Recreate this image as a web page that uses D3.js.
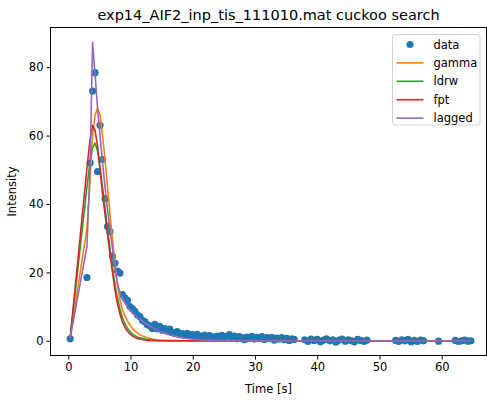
<!DOCTYPE html>
<html>
<head>
<meta charset="utf-8">
<script src="https://cdn.jsdelivr.net/npm/d3@7"></script>
<style>
  body { margin: 0; background: #fff; }
  text { font-family: "DejaVu Sans", sans-serif; fill: #000; }
</style>
</head>
<body>
<script>
// Measured samples (time in s, intensity)
var dataTime = [0.3, 3.0, 3.5, 3.9, 4.3, 4.7, 5.1, 5.5, 5.9, 6.3, 6.7, 7.1, 7.5,
    7.9, 8.3, 8.7, 9.1, 9.5, 9.9, 10.3, 10.7, 11.1, 11.5, 11.9, 12.3, 12.7,
    13.1, 13.5, 13.9, 14.3, 14.7, 15.1, 15.5, 15.9, 16.3, 16.7, 17.1, 17.5,
    17.9, 18.3, 18.7, 19.1, 19.5, 19.9, 20.3, 20.7, 21.1, 21.5, 21.9, 22.3,
    22.7, 23.1, 23.5, 23.9, 24.3, 24.7, 25.1, 25.5, 25.9, 26.3, 26.7, 27.1,
    27.5, 27.9, 28.3, 28.7, 29.1, 29.5, 29.9, 30.3, 30.7, 31.1, 31.5, 31.9,
    32.3, 32.7, 33.1, 33.5, 33.9, 34.3, 34.7, 35.1, 35.5, 35.9, 36.3,
    38.0, 38.5, 39.0, 39.5, 40.0, 40.5, 41.0, 41.5, 42.0, 42.5, 43.0, 43.5,
    44.0, 44.5, 45.0, 45.5, 46.0, 46.5, 47.0, 47.5, 48.0,
    52.6, 53.1, 53.6, 54.1, 54.6, 55.1, 55.6, 56.1, 56.6, 57.1,
    59.5, 62.2, 62.7, 63.2, 63.7, 64.2, 64.7];
var dataValue = [0.6, 18.5, 52.0, 73.0, 78.4, 49.5, 63.0, 53.0, 41.6, 33.4,
    31.9, 24.7, 22.7, 20.4, 19.8, 13.5, 12.5, 11.8, 10.0, 9.4, 8.6, 7.6, 7.1,
    6.0, 5.6, 4.7, 4.4, 3.6, 4.8, 3.5, 4.2, 3.1, 3.6, 2.8, 3.4, 2.5, 2.2, 2.7,
    1.9, 2.1, 1.6, 2.2, 1.5, 1.8, 1.2, 1.9, 1.4, 1.1, 1.7, 1.0, 1.5, 1.2, 0.7,
    1.4, 1.1, 1.6, 0.9, 1.3, 1.8, 1.0, 1.4, 0.6, 1.2, 0.9, 0.3, 1.1, 0.8, 1.3,
    0.5, 1.0, 0.7, 1.2, 0.4, 0.9, 0.6, 1.0, 0.2, 0.8, 0.5, 0.9, 0.3, 0.7, 0.1,
    0.6, 0.4,
    0.3, -0.2, 0.5, 0.1, 0.4, -0.3, 0.2, 0.6, 0.0, 0.3, -0.4, 0.2, 0.5, -0.1,
    0.3, 0.0, -0.3, 0.4, 0.1, -0.2, 0.2,
    0.1, -0.2, 0.3, 0.0, 0.4, -0.3, 0.1, -0.2, 0.2, 0.0,
    -0.1, 0.1, -0.2, 0.0, 0.2, -0.1, 0.0];

// Fitted model curves, sampled on their own time grid
var curveTime = [0.3, 3.0, 3.5, 3.9, 4.3, 4.7, 5.1, 5.5, 5.9, 6.3, 6.7, 7.1,
    7.5, 7.9, 8.3, 8.7, 9.1, 9.5, 9.9, 10.3, 10.7, 11.1, 11.5, 12.3, 13.1,
    13.9, 14.7, 15.5, 16.3, 17.9, 19.5, 21.1, 23.1, 25.1, 29.1, 35.1, 48.0,
    64.7];
var gammaFit = [0.8, 33, 47, 60, 66, 68, 66, 60, 53, 45, 37, 29.5, 22.5, 16.5,
    12, 9, 7.3, 5.8, 4.6, 3.7, 2.9, 2.3, 1.8, 1.1, 0.65, 0.38, 0.22, 0.13,
    0.08, 0.03, 0.01, 0, 0, 0, 0, 0, 0, 0];
var ldrwFit = [0.8, 45, 52.5, 56.5, 57.8, 55.5, 50.5, 45, 39, 33, 27, 21.5,
    16.5, 12.5, 9.3, 6.8, 5.0, 3.7, 2.7, 2.0, 1.5, 1.1, 0.85, 0.5, 0.3, 0.18,
    0.1, 0.06, 0.04, 0.02, 0.01, 0, 0, 0, 0, 0, 0, 0];
var fptFit = [0.8, 50.5, 59, 63, 61.5, 57, 50, 43, 37, 31, 25.5, 20, 15, 10.8,
    7.8, 5.5, 3.9, 2.8, 2.0, 1.4, 1.0, 0.7, 0.5, 0.25, 0.12, 0.06, 0.03,
    0.015, 0.01, 0, 0, 0, 0, 0, 0, 0, 0, 0];
var laggedFit = [0.8, 27.6, 51, 87.2, 78, 68, 60, 52, 45, 38.5, 32.5, 27,
    21.5, 16.5, 14.3, 12.5, 11.0, 9.9, 9.0, 8.2, 7.5, 6.9, 6.3, 5.2, 4.3, 3.5,
    2.8, 2.2, 1.7, 1.0, 0.6, 0.35, 0.18, 0.09, 0.02, 0, 0, 0];

var seriesNames = ["data", "gamma", "ldrw", "fpt", "lagged"];
var seriesColors = ["#1f77b4", "#ff7f0e", "#2ca02c", "#d62728", "#9467bd"];
var xTicks = [0, 10, 20, 30, 40, 50, 60];
var yTicks = [0, 20, 40, 60, 80];

var titleText = "exp14_AIF2_inp_tis_111010.mat cuckoo search";

//Define size and plot area
var width = 487,
    height = 401;
var plot = {left: 50.5, right: 486.5, top: 27.5, bottom: 355.5};

var svg = d3.select("body")
    .append("svg")
    .attr("width", width)
    .attr("height", height);

//Scales
var x = d3.scaleLinear()
    .domain([-2.86, 67.2])
    .range([plot.left, plot.right]);

var y = d3.scaleLinear()
    .domain([-4.3, 91.6])
    .range([plot.bottom, plot.top]);

//Axes
var xAxis = d3.axisBottom(x)
    .tickValues(xTicks)
    .tickSize(4)
    .tickPadding(3);

var yAxis = d3.axisLeft(y)
    .tickValues(yTicks)
    .tickSize(4)
    .tickPadding(3);

var gx = svg.append("g")
    .attr("transform", "translate(0," + plot.bottom + ")")
    .call(xAxis);

var gy = svg.append("g")
    .attr("transform", "translate(" + plot.left + ",0)")
    .call(yAxis);

[gx, gy].forEach(function(g) {
    g.select(".domain").remove();
    g.selectAll(".tick line").attr("stroke", "#000").attr("stroke-width", 1);
    g.selectAll(".tick text")
        .style("font-family", "DejaVu Sans")
        .style("font-size", "11.5px")
        .attr("fill", "#000");
});

//Clip to plot area
svg.append("clipPath")
    .attr("id", "clip")
    .append("rect")
    .attr("x", plot.left)
    .attr("y", plot.top)
    .attr("width", plot.right - plot.left)
    .attr("height", plot.bottom - plot.top);

var area = svg.append("g")
    .attr("clip-path", "url(#clip)");

//Data points
area.selectAll("circle.pt")
    .data(dataTime)
    .enter().append("circle")
    .attr("class", "pt")
    .attr("cx", function(d) { return x(d); })
    .attr("cy", function(d, i) { return y(dataValue[i]); })
    .attr("r", 3.6)
    .attr("fill", seriesColors[0]);

//Fitted curves
var line = d3.line()
    .x(function(d) { return x(d[0]); })
    .y(function(d) { return y(d[1]); });

var fits = [gammaFit, ldrwFit, fptFit, laggedFit];
fits.forEach(function(vals, k) {
    area.append("path")
        .datum(curveTime.map(function(t, i) { return [t, vals[i]]; }))
        .attr("d", line)
        .attr("fill", "none")
        .attr("stroke", seriesColors[k + 1])
        .attr("stroke-width", 1.6)
        .attr("stroke-linejoin", "round");
});

//Frame
svg.append("rect")
    .attr("x", plot.left)
    .attr("y", plot.top)
    .attr("width", plot.right - plot.left)
    .attr("height", plot.bottom - plot.top)
    .attr("fill", "none")
    .attr("stroke", "#000")
    .attr("stroke-width", 1);

//Title and labels
svg.append("text")
    .attr("x", (plot.left + plot.right) / 2)
    .attr("y", 20)
    .attr("text-anchor", "middle")
    .style("font-size", "14.5px")
    .text(titleText);

svg.append("text")
    .attr("x", (plot.left + plot.right) / 2)
    .attr("y", 393)
    .attr("text-anchor", "middle")
    .style("font-size", "11.5px")
    .text("Time [s]");

svg.append("text")
    .attr("transform", "translate(15.5," + ((plot.top + plot.bottom) / 2) +
        ") rotate(-90)")
    .attr("text-anchor", "middle")
    .style("font-size", "11.5px")
    .text("Intensity");

//Legend
var legend = svg.append("g")
    .attr("transform", "translate(392.5,34.5)");

legend.append("rect")
    .attr("width", 87.5)
    .attr("height", 90.5)
    .attr("rx", 3)
    .attr("fill", "#fff")
    .attr("fill-opacity", 0.8)
    .attr("stroke", "#d0d0d0")
    .attr("stroke-width", 1);

seriesNames.forEach(function(name, i) {
    var cy = 10 + i * 18.4;
    if (i == 0) {
        legend.append("circle")
            .attr("cx", 17.5)
            .attr("cy", cy)
            .attr("r", 3.6)
            .attr("fill", seriesColors[0]);
    } else {
        legend.append("line")
            .attr("x1", 4)
            .attr("x2", 31)
            .attr("y1", cy)
            .attr("y2", cy)
            .attr("stroke", seriesColors[i])
            .attr("stroke-width", 1.6);
    }
    legend.append("text")
        .attr("x", 41)
        .attr("y", cy + 4)
        .style("font-size", "11.5px")
        .text(name);
});
</script>
</body>
</html>
